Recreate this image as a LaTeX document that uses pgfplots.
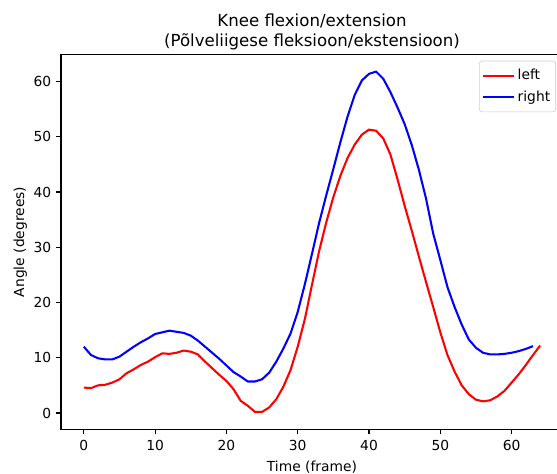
\documentclass[border=0pt]{standalone}
\usepackage{fontspec}
\setmainfont{DejaVu Sans}
\usepackage{pgfplots}
\pgfplotsset{compat=1.18}
\begin{document}
\begin{tikzpicture}
\begin{axis}[
  at={(0,0)}, anchor=south west,
  scale only axis,
  width=362.8pt, height=271.0pt,
  xmin=-3.2, xmax=67.2,
  ymin=-2.98, ymax=64.9,
  xtick={0,10,20,30,40,50,60},
  ytick={0,10,20,30,40,50,60},
  xtick pos=bottom, ytick pos=left,
  tick align=outside,
  major tick length=3.5pt,
  every tick/.style={black, line width=0.8pt},
  axis line style={line width=0.8pt},
  /pgf/number format/assume math mode=true,
  tick label style={font=\fontsize{10}{12}\selectfont},
  xticklabel style={yshift=-1pt},
  xlabel={Time (frame)},
  ylabel={Angle (degrees)},
  label style={font=\fontsize{10}{12}\selectfont},
  xlabel style={yshift=0pt},
  ylabel style={yshift=-2pt},
  title={Knee flexion/extension\\(Põlveliigese fleksioon/ekstensioon)},
  title style={font=\fontsize{12}{14.5}\selectfont, align=center, yshift=-6pt},
  legend style={at={(1,1)}, anchor=north east, xshift=-5pt, yshift=-4.5pt,
    draw=black!20, rounded corners=2pt, font=\fontsize{10}{12}\selectfont,
    row sep=2.5pt, inner xsep=2pt, inner ysep=4pt},
  legend cell align=left,
  legend image code/.code={\draw[#1] (0cm,0cm) -- (0.78cm,0cm);},
]
\addplot[red, line width=1.5pt] coordinates {
(0,4.6)(1,4.5)(2,5.0)(3,5.1)(4,5.5)(5,6.1)(6,7.2)(7,7.9)(8,8.7)(9,9.3)
(10,10.1)(11,10.8)(12,10.7)(13,10.9)(14,11.3)(15,11.1)(16,10.6)(17,9.3)(18,8.1)(19,6.9)
(20,5.8)(21,4.3)(22,2.2)(23,1.3)(24,0.2)(25,0.2)(26,1.0)(27,2.5)(28,4.8)(29,7.8)
(30,12.0)(31,17.0)(32,23.2)(33,29.3)(34,34.5)(35,39.1)(36,43.0)(37,46.2)(38,48.6)(39,50.4)
(40,51.3)(41,51.1)(42,49.7)(43,46.8)(44,42.3)(45,37.5)(46,33.0)(47,28.3)(48,23.7)(49,19.2)
(50,14.6)(51,10.5)(52,7.5)(53,5.0)(54,3.4)(55,2.4)(56,2.1)(57,2.3)(58,3.0)(59,4.0)
(60,5.5)(61,7.0)(62,8.7)(63,10.5)(64,12.2)
};
\addlegendentry{left}
\addplot[blue, line width=1.5pt] coordinates {
(0,12.0)(1,10.5)(2,9.9)(3,9.7)(4,9.7)(5,10.2)(6,11.1)(7,12.0)(8,12.8)(9,13.5)
(10,14.3)(11,14.6)(12,14.9)(13,14.7)(14,14.5)(15,14.0)(16,13.1)(17,12.0)(18,10.9)(19,9.8)
(20,8.6)(21,7.4)(22,6.6)(23,5.7)(24,5.7)(25,6.1)(26,7.3)(27,9.3)(28,11.7)(29,14.4)
(30,18.3)(31,23.3)(32,28.8)(33,34.4)(34,39.4)(35,44.2)(36,49.1)(37,53.7)(38,57.6)(39,60.2)
(40,61.4)(41,61.8)(42,60.5)(43,58.1)(44,55.3)(45,52.3)(46,48.5)(47,44.0)(48,38.8)(49,32.5)
(50,27.7)(51,22.8)(52,19.2)(53,16.0)(54,13.3)(55,11.8)(56,10.9)(57,10.6)(58,10.6)(59,10.7)
(60,10.9)(61,11.2)(62,11.6)(63,12.1)
};
\addlegendentry{right}
\end{axis}
\pgfresetboundingbox
\path[use as bounding box] (-44.1pt,-32.2pt) rectangle (358.5pt,310.4pt);
\end{tikzpicture}
\end{document}
